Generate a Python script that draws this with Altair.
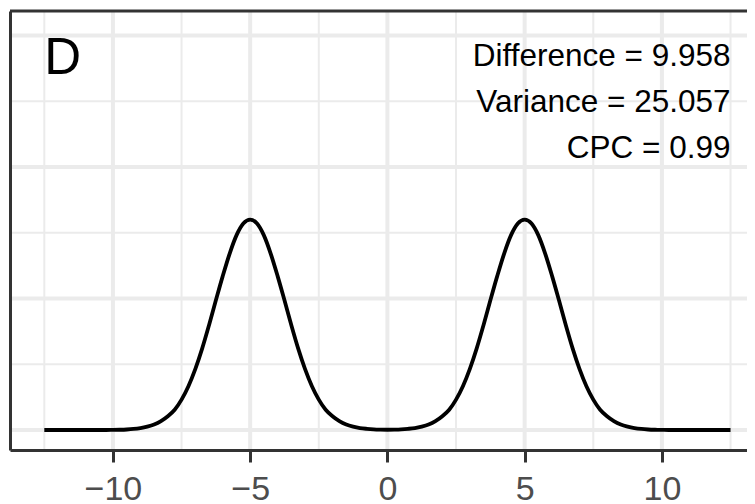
import altair as alt
import pandas as pd

# sample positions of the density curve (x) and read-off densities
x_grid = [i * 0.25 for i in range(-50, 51)]
density = [
    0, 0, 0, 0, 0, 0, 0, 0, 0, 0,
    0.0001, 0.0002, 0.0004, 0.0008, 0.0015, 0.0026, 0.0042, 0.0068, 0.0105, 0.0154,
    0.0231, 0.0333, 0.0463, 0.0619, 0.0797, 0.0986, 0.1170, 0.1340, 0.1480, 0.1570,
    0.1600,
    0.1570, 0.1480, 0.1340, 0.1170, 0.0986, 0.0797, 0.0619, 0.0463, 0.0333, 0.0231,
    0.0154, 0.0105, 0.0068, 0.0042, 0.0026, 0.0015, 0.0009, 0.0005, 0.0003,
    0.0002,
    0.0003, 0.0005, 0.0009, 0.0015, 0.0026, 0.0042, 0.0068, 0.0105, 0.0154, 0.0231,
    0.0333, 0.0463, 0.0619, 0.0797, 0.0986, 0.1170, 0.1340, 0.1480, 0.1570,
    0.1600,
    0.1570, 0.1480, 0.1340, 0.1170, 0.0986, 0.0797, 0.0619, 0.0463, 0.0333, 0.0231,
    0.0154, 0.0105, 0.0068, 0.0042, 0.0026, 0.0015, 0.0008, 0.0004, 0.0002, 0.0001,
    0, 0, 0, 0, 0, 0, 0, 0, 0, 0,
]

x_ticks = [-10, -5, 0, 5, 10]
x_minor = [-12.5, -7.5, -2.5, 2.5, 7.5, 12.5]
y_major = [0, 0.1, 0.2, 0.3]
y_minor = [0.05, 0.15, 0.25]

stat_labels = ["Difference = 9.958", "Variance = 25.057", "CPC = 0.99"]
stat_y = [0.2770, 0.2420, 0.2066]
stat_x = [12.5, 12.5, 12.5]

panel_label = ["D"]
panel_x = [-12.5]
panel_y = [0.2707]

W = 737
H = 439
FONT = "Liberation Sans"
BORDER = "#333333"
GRID = "#EBEBEB"

xscale = alt.Scale(domain=[-13.75, 13.10], nice=False, zero=False)
yscale = alt.Scale(domain=[-0.0152, 0.3186], nice=False, zero=False)

xaxis = alt.Axis(values=x_ticks, grid=False, title=None, tickSize=12, tickWidth=3,
                 tickColor=BORDER, domainColor=BORDER, domainWidth=3,
                 labelFont=FONT, labelFontSize=34, labelColor="#4D4D4D",
                 labelPadding=10, zindex=1, labelFlush=False)
yaxis = alt.Axis(labels=False, ticks=False, grid=False, title=None,
                 domainColor=BORDER, domainWidth=3, zindex=1)

X = lambda f: alt.X(f, type="quantitative", scale=xscale, axis=xaxis)
Y = lambda f: alt.Y(f, type="quantitative", scale=yscale, axis=yaxis)

curve_df = pd.DataFrame({"x": x_grid, "y": density})

vminor = alt.Chart(pd.DataFrame({"x": x_minor})).mark_rule(
    color=GRID, strokeWidth=2).encode(x=X("x"))
vmajor = alt.Chart(pd.DataFrame({"x": x_ticks})).mark_rule(
    color=GRID, strokeWidth=4).encode(x=X("x"))
hminor = alt.Chart(pd.DataFrame({"y": y_minor})).mark_rule(
    color=GRID, strokeWidth=2).encode(y=Y("y"))
hmajor = alt.Chart(pd.DataFrame({"y": y_major})).mark_rule(
    color=GRID, strokeWidth=4).encode(y=Y("y"))

line = alt.Chart(curve_df).mark_line(
    color="black", strokeWidth=3.8, interpolate="monotone", strokeCap="butt"
).encode(x=X("x"), y=Y("y"))

stats = alt.Chart(pd.DataFrame({"x": stat_x, "y": stat_y, "t": stat_labels})).mark_text(
    font=FONT, fontSize=31.5, align="right", baseline="alphabetic", color="black"
).encode(x=X("x"), y=Y("y"), text="t:N")

panel = alt.Chart(pd.DataFrame({"x": panel_x, "y": panel_y, "t": panel_label})).mark_text(
    font=FONT, fontSize=51, align="left", baseline="alphabetic", color="black"
).encode(x=X("x"), y=Y("y"), text="t:N")

top_border = alt.Chart(pd.DataFrame({"a": [0]})).mark_rule(
    color=BORDER, strokeWidth=3).encode(
    x=alt.value(0), x2=alt.value(W), y=alt.value(0))

chart = alt.layer(vminor, vmajor, hminor, hmajor, line, stats, panel, top_border).properties(
    width=W, height=H,
    autosize=alt.AutoSizeParams(type="none"),
    padding={"left": 2, "top": 3, "right": 0, "bottom": 56},
    background="white",
).configure_view(stroke=None)

chart.save("out.html", embed_options={"renderer": "svg", "actions": False})
